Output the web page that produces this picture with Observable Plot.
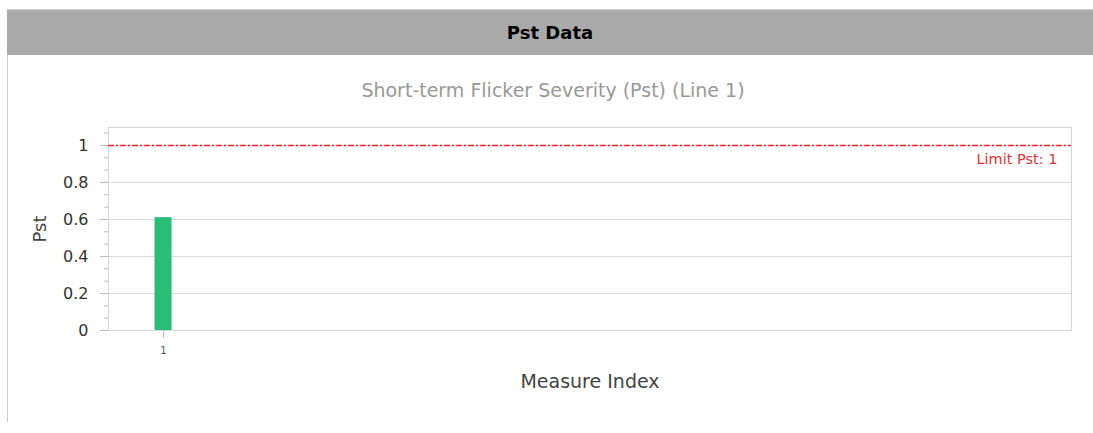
<!DOCTYPE html>
<html>
<head>
<meta charset="utf-8">
<script src="https://cdn.jsdelivr.net/npm/d3@7"></script>
<script src="https://cdn.jsdelivr.net/npm/@observablehq/plot@0.6"></script>
<style>
  html, body { margin: 0; padding: 0; background: #fff; }
  body { width: 1093px; height: 433px; position: relative; overflow: hidden; font-family: "DejaVu Sans", Verdana, sans-serif; }
  #header { position: absolute; left: 7px; top: 9px; width: 1086px; height: 46px; background: #aaaaaa; border-top: 1px solid #d0d0d0; box-sizing: border-box; text-align: center; line-height: 46px; font-weight: bold; font-size: 18px; color: #000; }
  #panel { position: absolute; left: 7px; top: 55px; width: 1086px; height: 367px; border-left: 1px solid #cfcfcf; box-sizing: border-box; }
  #subtitle { position: absolute; left: 0; top: 79px; width: 1106px; text-align: center; font-size: 19px; color: #999; }
  #chart { position: absolute; left: 0; top: 110px; }
</style>
</head>
<body>
<div id="header">Pst Data</div>
<div id="panel"></div>
<div id="subtitle">Short-term Flicker Severity (Pst) (Line 1)</div>
<div id="chart"></div>
<script>
const measureIndex = [1];
const pstValues = [0.61];
const limitPst = 1;
const yMajorTicks = [0, 0.2, 0.4, 0.6, 0.8, 1];
const yMinorTicks = d3.range(0, 17).map(i => i / 15);
const xTicks = [1];

const data = measureIndex.map((m, i) => ({idx: m, pst: pstValues[i]}));
const halfBar = 0.155;

const plot = Plot.plot({
  width: 1093,
  height: 300,
  marginLeft: 108,
  marginRight: 22,
  marginTop: 17,
  marginBottom: 80,
  style: {fontFamily: "DejaVu Sans, Verdana, sans-serif", background: "transparent", overflow: "visible"},
  x: {domain: [0, 17.5], label: null},
  y: {domain: [0, 1.097], label: null},
  marks: [
    Plot.gridY(yMajorTicks, {stroke: "#d9d9d9", strokeOpacity: 1}),
    Plot.frame({stroke: "#d4d4d4"}),
    Plot.axisY(yMinorTicks.filter(t => t <= 1.097), {tickSize: 4, text: null, stroke: "#bbb", label: null}),
    Plot.axisY(yMajorTicks, {tickSize: 8, tickPadding: 12, stroke: "#bbb", fill: "#333", fontSize: 16, tickFormat: d => String(d), label: null}),
    Plot.axisX(xTicks, {tickSize: 8, tickPadding: 8, stroke: "#bbb", fill: "#555", fontSize: 10, label: null}),
    Plot.rectY(data, {x1: d => d.idx - halfBar, x2: d => d.idx + halfBar, y1: 0, y2: "pst", fill: "#2bbd78"}),
    Plot.ruleY([limitPst], {stroke: "#ee2a2a", strokeWidth: 1.4, strokeOpacity: 1, strokeDasharray: "6,2,2,2"}),
    Plot.text([limitPst], {y: d => d, frameAnchor: "right", dx: -14, dy: 14, text: d => `Limit Pst: ${d}`, textAnchor: "end", fill: "#d9363e", fontSize: 14.5}),
    Plot.text(["Measure Index"], {frameAnchor: "bottom", dy: 57, text: d => d, fill: "#444", fontSize: 19}),
    Plot.text(["Pst"], {frameAnchor: "left", dx: -68, rotate: -90, textAnchor: "middle", text: d => d, fill: "#444", fontSize: 18})
  ]
});
document.getElementById("chart").appendChild(plot);
</script>
</body>
</html>
